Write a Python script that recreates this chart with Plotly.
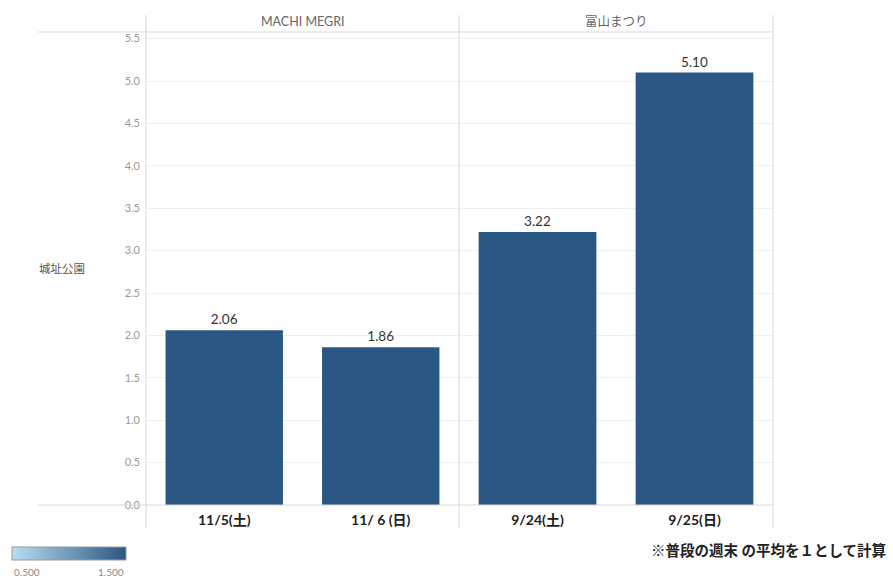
import plotly.graph_objects as go
from plotly.subplots import make_subplots

# Data
panels = ["MACHI MEGRI", "富山まつり"]
dates_machi = ["11/5(土)", "11/ 6 (日)"]
vals_machi = [2.06, 1.86]
dates_toyama = ["9/24(土)", "9/25(日)"]
vals_toyama = [3.22, 5.10]
row_label = "城址公園"
color_range = [0.5, 1.5]
y_ticks = [0.0, 0.5, 1.0, 1.5, 2.0, 2.5, 3.0, 3.5, 4.0, 4.5, 5.0, 5.5]
note = "※普段の週末 の平均を１として計算"

W, H = 893, 578
L, R, T, B = 146, 773, 32, 505  # plot area in pixels

def px(x):
    return (x - L) / (R - L)

def py(y):
    return (B - y) / (B - T)

FONT = "Lato, 'Noto Sans CJK JP', sans-serif"
GRID = "#d9d9d9"

fig = make_subplots(rows=1, cols=2, shared_yaxes=True, horizontal_spacing=0)

for col, (cats, vals) in enumerate([(dates_machi, vals_machi), (dates_toyama, vals_toyama)], start=1):
    fig.add_trace(
        go.Bar(
            x=cats, y=vals, width=0.75,
            marker=dict(color=vals, coloraxis="coloraxis", line=dict(width=0)),
            texttemplate="%{y:.2f}", textposition="outside",
            textfont=dict(color="#333333", size=13.5, family=FONT),
            cliponaxis=False, showlegend=False,
        ),
        row=1, col=col,
    )

mid = px(459)
fig.update_layout(
    width=W, height=H,
    margin=dict(l=L, r=W - R, t=T, b=H - B),
    plot_bgcolor="white", paper_bgcolor="white",
    font=dict(family=FONT, color="#333333"),
    bargap=0.25,
    coloraxis=dict(
        cmin=color_range[0], cmax=color_range[1],
        colorscale=[[0, "#b9ddf1"], [1, "#2a5783"]],
        colorbar=dict(
            orientation="h", x=px(12), xanchor="left", y=py(561), yanchor="bottom",
            len=114, lenmode="pixels", thickness=13, xpad=0, ypad=0,
            outlinecolor="#9a9a9a", outlinewidth=1,
            showticklabels=False, ticks="",
        ),
    ),
    xaxis=dict(domain=[0, mid]),
    xaxis2=dict(domain=[mid, 1]),
)

fig.update_xaxes(
    showgrid=False, zeroline=False, showline=False, ticks="",
    tickfont=dict(size=14, color="#222222", family=FONT, weight="bold"),
    ticklabelstandoff=5,
)
fig.update_yaxes(
    range=[0, (B - T) / 84.8], tickvals=y_ticks, tickformat=".1f",
    showgrid=True, gridcolor="#f0f0f0", gridwidth=1,
    zeroline=False, showline=False, ticks="",
    tickfont=dict(size=11, color="#999999", family=FONT),
    ticklabelstandoff=5,
)

# Table-style frame lines
shapes = []
for x in (L, 459, R):
    shapes.append(dict(type="line", xref="paper", yref="paper",
                       x0=px(x), x1=px(x), y0=py(15), y1=py(528),
                       line=dict(color=GRID, width=1)))
for y in (T, B):
    shapes.append(dict(type="line", xref="paper", yref="paper",
                       x0=px(38), x1=1, y0=py(y), y1=py(y),
                       line=dict(color=GRID, width=1)))
fig.update_layout(shapes=shapes)

def label(text, x, y, size, color, xanchor="center"):
    return dict(text=text, x=px(x), y=py(y), xref="paper", yref="paper",
                xanchor=xanchor, yanchor="middle", showarrow=False,
                font=dict(size=size, color=color))

annotations = [
    label(panels[0], 302.5, 22, 12.5, "#666666"),
    label(panels[1], 616, 22, 12.5, "#666666"),
    label(row_label, 62, 268, 11.5, "#555555"),
    label(f"{color_range[0]:.3f}", 12, 572, 10, "#888888", "left"),
    label(f"{color_range[1]:.3f}", 126, 572, 10, "#888888", "right"),
    label(f"<b>{note}</b>", 888, 550, 14.5, "#222222", "right"),
]
fig.update_layout(annotations=annotations)

fig.write_html("out.html")
